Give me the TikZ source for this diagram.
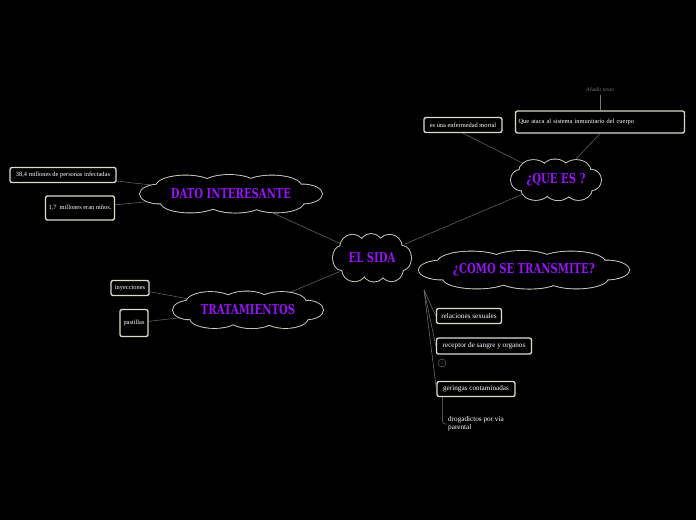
\documentclass[tikz,border=0pt]{standalone}
\usepackage{fontspec}
\setmainfont{Liberation Serif}
\newfontfamily\titlefont{DejaVu Serif}[FakeStretch=0.74]
\usetikzlibrary{positioning,shapes.geometric,backgrounds}
\definecolor{mappurple}{RGB}{150,20,245}
\definecolor{mapcloud}{RGB}{205,212,196}
\definecolor{mapbox}{RGB}{214,224,204}
\definecolor{mapline}{RGB}{95,95,95}
\definecolor{mapgray}{RGB}{120,120,120}
% puffs of a unit cloud: x/y/x radius/y radius
\newcommand\cloudpuffs{0/0/0.82/0.62, -0.78/0/0.22/0.5, 0.78/0/0.22/0.5,
  -0.5/-0.42/0.32/0.55, -0.02/-0.48/0.3/0.52, 0.45/-0.42/0.32/0.55,
  -0.45/0.45/0.32/0.52, 0.05/0.48/0.3/0.5, 0.5/0.42/0.3/0.55}

\begin{document}
\begin{tikzpicture}[
  x=1pt,y=-1pt,
  topic/.style={ellipse,inner sep=0pt,text=mappurple,font=\titlefont\bfseries\fontsize{13.6}{14}\selectfont},
  cloudrim/.style={mapcloud,line width=1.8pt},
  leaf/.style={draw=mapbox,fill=black,rounded corners=2pt,line width=1.3pt,text=white,
    font=\fontsize{6.4}{7.5}\selectfont,inner xsep=3pt,inner ysep=2pt,minimum height=15pt},
  bigleaf/.style={leaf,font=\fontsize{7.2}{8}\selectfont},
  link/.style={mapline,line width=0.6pt},
  thinlink/.style={mapgray,line width=0.5pt}
]
% Topics (clouds are drawn behind them)
\node[topic,minimum width=78pt,minimum height=48pt] (sida) at (372,258) {EL SIDA};
\node[topic,minimum width=90pt,minimum height=41pt] (quees) at (556,180) {¿QUE ES ?};
\node[topic,minimum width=182pt,minimum height=38pt] (dato) at (231,194) {DATO INTERESANTE};
\node[topic,minimum width=150pt,minimum height=37pt] (trat) at (248,310) {TRATAMIENTOS};
\node[topic,minimum width=210pt,minimum height=38pt] (como) at (524,270) {¿COMO SE TRANSMITE?};

% DATO INTERESANTE leaves
\node[leaf,minimum width=106pt] (infectadas) at (63,175) {38,4 millones de personas infectadas};
\node[leaf,minimum width=69pt,minimum height=24pt] (ninos) at (80,208) {1,7\ \ millones eran niños.};

% TRATAMIENTOS leaves
\node[leaf,minimum width=38pt] (inyecciones) at (130,288) {inyecciones};
\node[leaf,minimum width=28pt,minimum height=27pt] (pastillas) at (134,323) {pastillas};

% QUE ES leaves
\node[leaf,minimum width=78pt] (mortal) at (463,125) {es una enfermedad mortal};
\node[leaf,text width=163pt,align=left,minimum height=22pt] (ataca) at (600,122) {Que ataca al sistema inmunitario del cuerpo};
\node[font=\fontsize{5.5}{6}\selectfont,text=mapgray] (anadir) at (600,90) {Añadir texto};
\draw[thinlink] (anadir) -- (ataca.north);

% COMO SE TRANSMITE leaves
\coordinate (comofoot) at (424,290);
\node[bigleaf,minimum width=65pt] (relaciones) at (469,316) {relaciones sexuales};
\node[bigleaf,minimum width=95pt,minimum height=16pt] (receptor) at (484,346) {receptor de sangre y organos};
\node[circle,draw=mapgray,inner sep=0pt,minimum size=8pt,text=mapgray,
      font=\fontsize{4}{4}\selectfont] (badge) at (442,363) {1};
\node[bigleaf,minimum width=78pt] (geringas) at (476,389) {geringas contaminadas};
\node[text=white,font=\fontsize{7.2}{7.8}\selectfont,align=left,inner sep=1pt,anchor=west] (drogas) at (447,424)
  {drogadictos por via\\parental};
\draw[thinlink] (comofoot) -- (relaciones.west);
\draw[thinlink] (comofoot) -- (receptor.west);
\draw[thinlink] (comofoot) -- (geringas.west);
\draw[thinlink,rounded corners=3pt] ([xshift=6pt]geringas.south west) |- (drogas.west);

\begin{scope}[on background layer]
% Background (fixes the bounding box)
\fill[black] (0,0) rectangle (696,520);

% Connectors
\draw[link] (sida) -- (quees);
\draw[link] (sida) -- (dato);
\draw[link] (sida) -- (trat);
\draw[link] (infectadas) -- (dato);
\draw[link] (ninos) -- (dato);
\draw[link] (inyecciones) -- (trat);
\draw[link] (pastillas) -- (trat);
\draw[link] (mortal.south) -- (quees);
\draw[link] (ataca.south) -- (quees);

% Clouds: rims first, then the black fill hides the inner rims
\foreach \cx/\cy/\hw/\hh in {372/258/39/24, 556/180/45/20.5, 231/194/91/19, 248/310/75/18.5, 524/270/105/19}{
  \begin{scope}[shift={(\cx,\cy)},xscale=\hw,yscale=\hh]
    \foreach \px/\py/\rx/\ry in \cloudpuffs
      \draw[cloudrim] (\px,\py) ellipse [x radius=\rx pt,y radius=\ry pt];
    \foreach \px/\py/\rx/\ry in \cloudpuffs
      \fill[black] (\px,\py) ellipse [x radius=\rx pt,y radius=\ry pt];
  \end{scope}
}
\end{scope}

\end{tikzpicture}
\end{document}
